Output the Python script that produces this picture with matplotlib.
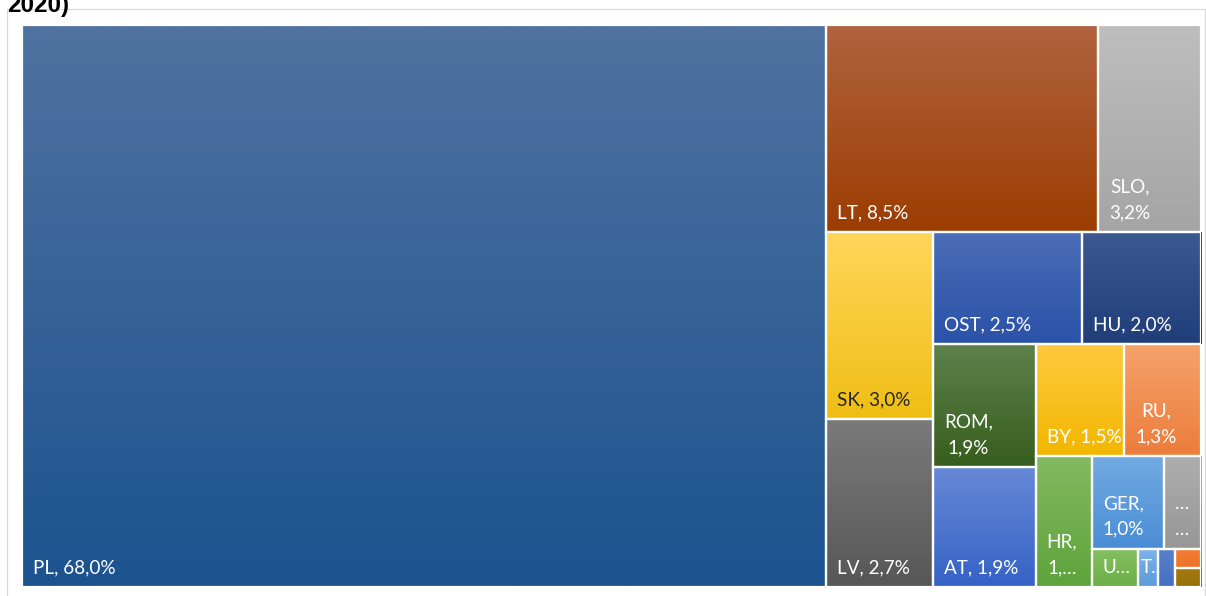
import numpy as np
import matplotlib
matplotlib.use("Agg")
import matplotlib.pyplot as plt
from matplotlib.patches import Rectangle
from matplotlib.colors import to_rgb

# ---------------- data ----------------
labels = ["PL, 68,0%", "LT, 8,5%", "SLO,\n3,2%", "SK, 3,0%", "LV, 2,7%",
          "OST, 2,5%", "HU, 2,0%", "ROM,\n1,9%", "AT, 1,9%", "BY, 1,5%",
          "RU,\n1,3%", "HR,\n1,…", "GER,\n1,0%", "…\n…", "U…", "T..", "", "", ""]
values = [68.0, 8.5, 3.2, 3.0, 2.7, 2.5, 2.0, 1.9, 1.85, 1.5, 1.3, 1.1,
          1.0, 0.52, 0.27, 0.11, 0.1, 0.075, 0.075]
# number of items laid out in each strip of the treemap
strips = [1, 2, 2, 2, 2, 2, 1, 2, 1, 1, 1, 1, 1]
top_colors = ["#4F72A0", "#B0633F", "#BEBEBE", "#FFD65A", "#7A7A7A",
              "#4B6CB7", "#3E5890", "#5E814C", "#6689D6", "#FFC93F",
              "#F5A26C", "#84BA62", "#72AAE2", "#ADADAD", "#86C062",
              "#7EB3E8", "#5A80CC", "#F07F35", "#A57A12"]
bottom_colors = ["#1C538F", "#9C3D02", "#A5A5A5", "#EFBE14", "#575757",
                 "#2A52A8", "#1F3E7A", "#365E1D", "#3462C6", "#F2B700",
                 "#EC7D3B", "#5DA33A", "#4A8DD5", "#979797", "#6AAE45",
                 "#5C9BDC", "#4470C4", "#EE7127", "#98700A"]
text_colors = ["white"] * len(labels)
text_colors[3] = "#262626"
title = "2020)"

# ---------------- figure ----------------
W, H = 1206, 596
fig = plt.figure(figsize=(W / 100, H / 100), dpi=100)
fig.patch.set_facecolor("white")

# chart frame
fig.patches.append(Rectangle((7 / W, -0.05), 1198 / W, 1.05 - 9 / H,
                             transform=fig.transFigure, fill=False,
                             edgecolor="#D9D9D9", linewidth=0.9))
fig.text(7 / W, 1 - 12 / H, title, fontsize=17.5, fontweight="bold",
         family="Liberation Sans", va="baseline", ha="left", color="black")

AW, AH = 1179, 562
ax = fig.add_axes([22 / W, 9 / H, AW / W, AH / H])
ax.set_xlim(0, AW)
ax.set_ylim(0, AH)
ax.axis("off")

# strip layout (columns on the left when wide, rows on top when tall)
scale = AW * AH / sum(values)
rects = []
x, y, w, h = 0.0, 0.0, float(AW), float(AH)
idx = 0
for si, n in enumerate(strips):
    vals = values[idx: idx + n]
    area = sum(vals) * scale
    last = si == len(strips) - 1
    if w >= h:
        cw = w if last else area / h
        yy = y + h
        for v in vals:
            hh = v * scale / cw if not last else h * v / sum(vals)
            rects.append((x, yy - hh, cw, hh))
            yy -= hh
        x += cw
        w -= cw
    else:
        rh = h if last else area / w
        xx = x
        for v in vals:
            ww = v * scale / rh if not last else w * v / sum(vals)
            rects.append((xx, y + h - rh, ww, rh))
            xx += ww
        h -= rh
    idx += n

for (rx, ry, rw, rh), lab, c0, c1, tc in zip(rects, labels, top_colors,
                                             bottom_colors, text_colors):
    a, b = np.array(to_rgb(c0)), np.array(to_rgb(c1))
    t = np.linspace(0, 1, 64)[:, None]
    grad = (a * (1 - t) + b * t)[:, None, :]
    ax.imshow(grad, extent=[rx, rx + rw, ry, ry + rh], origin="upper",
              aspect="auto", interpolation="bilinear", zorder=1)
    rp = Rectangle((rx, ry), rw, rh, facecolor="none", edgecolor="white",
                   linewidth=1.6, zorder=2)
    ax.add_patch(rp)
    if lab:
        pad = 8.0 if rw > 30 else 1.5
        txt = ax.annotate(lab, xy=(rx, ry), xytext=(pad, 8.0),
                          textcoords="offset points", ha="left", va="bottom",
                          multialignment="center", fontsize=13.6,
                          family="Lato", color=tc, linespacing=1.62,
                          zorder=3)
        clip = Rectangle((rx, ry), rw, rh, transform=ax.transData)
        txt.set_clip_path(clip)

fig.savefig("out.png", dpi=100)
